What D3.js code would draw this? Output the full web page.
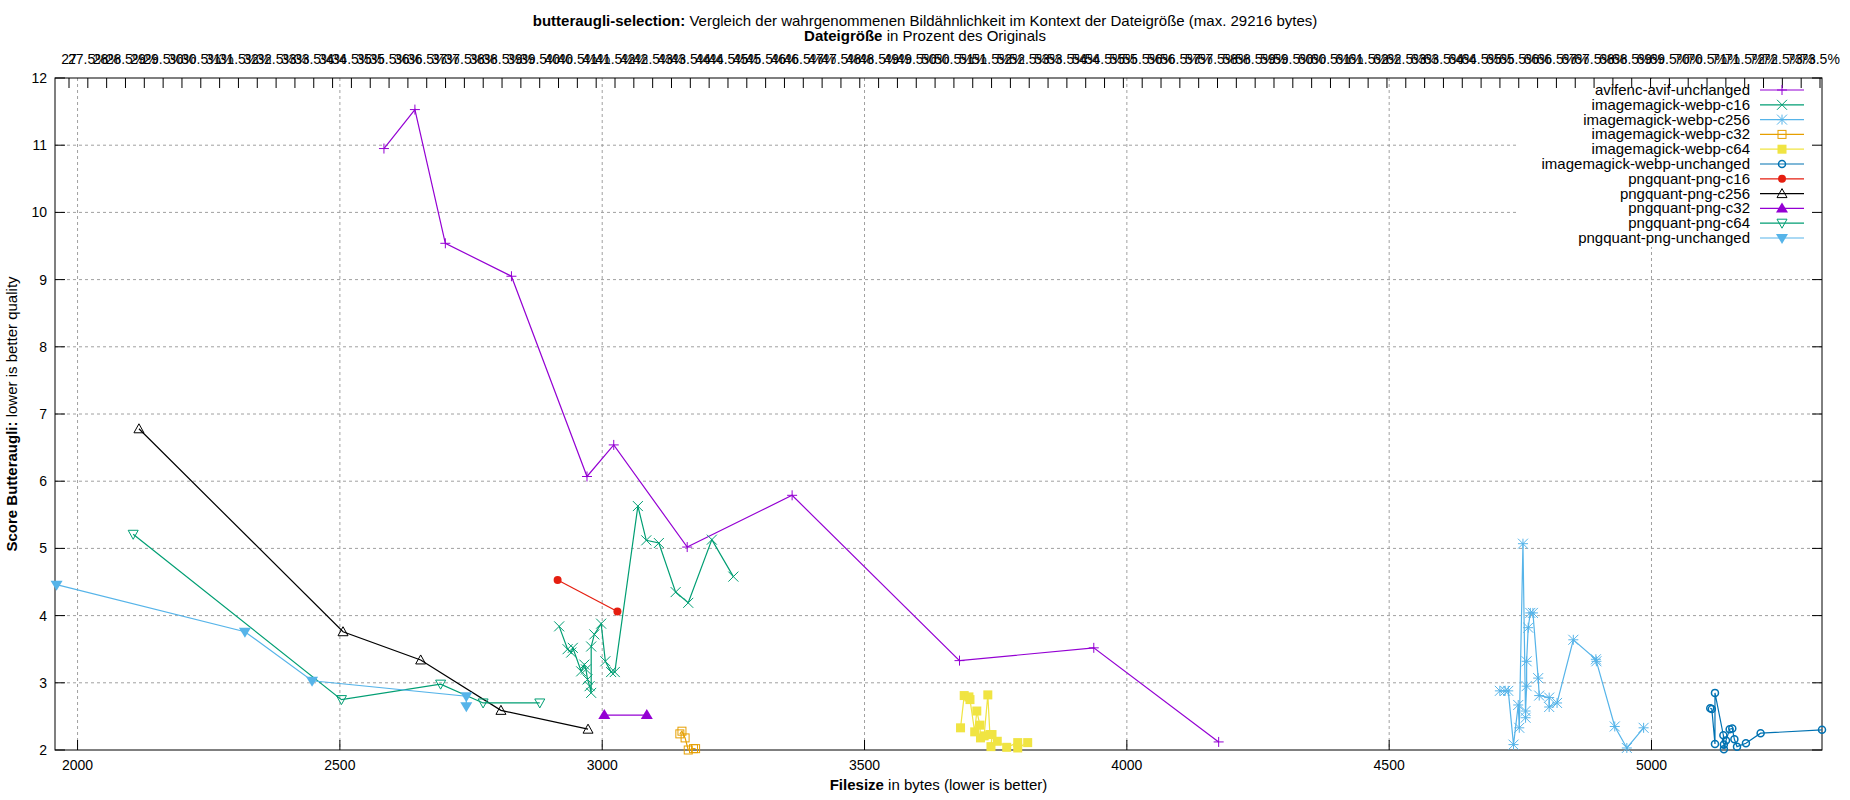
<!DOCTYPE html>
<html><head><meta charset="utf-8">
<script src="https://cdn.jsdelivr.net/npm/d3@7"></script>
<style>body{margin:0;background:#fff}svg{font-family:"Liberation Sans",Arial,sans-serif}</style>
</head><body><svg id="c" width="1850" height="800"></svg>
<script>
const seriesNames = ["avifenc-avif-unchanged","imagemagick-webp-c16","imagemagick-webp-c256","imagemagick-webp-c32","imagemagick-webp-c64","imagemagick-webp-unchanged","pngquant-png-c16","pngquant-png-c256","pngquant-png-c32","pngquant-png-c64","pngquant-png-unchanged"];
const seriesColors = ["#9400d3","#009e73","#56b4e9","#e69f00","#f0e442","#0072b2","#e51e10","#000000","#9400d3","#009e73","#56b4e9"];
const seriesMarkers = ["plus","cross","star","sqOpen","sqFill","circOpen","circFill","triOpen","triFill","dtriOpen","dtriFill"];
const avif = [[2584,10.95],[2643,11.53],[2701,9.54],[2827,9.05],[2971,6.07],[3022,6.54],[3162,5.02],[3362,5.79],[3681,3.33],[3937,3.52],[4175,2.12]];
const webpC16 = [[2918,3.84],[2934,3.50],[2941,3.45],[2944,3.52],[2960,3.17],[2966,3.27],[2969,3.20],[2972,3.05],[2976,2.95],[2979,2.85],[2979,3.54],[2985,3.72],[2998,3.88],[3006,3.32],[3017,3.16],[3024,3.16],[3068,5.63],[3084,5.12],[3108,5.08],[3140,4.35],[3164,4.19],[3209,5.13],[3250,4.58]];
const webpC256 = [[4711,2.88],[4721,2.88],[4727,2.88],[4737,2.08],[4746,2.67],[4748,2.33],[4755,5.07],[4760,2.48],[4760,2.58],[4762,2.95],[4762,3.32],[4765,3.82],[4769,4.04],[4774,4.04],[4784,3.07],[4786,2.81],[4805,2.78],[4805,2.64],[4820,2.70],[4851,3.64],[4894,3.35],[4895,3.32],[4930,2.35],[4953,2.03],[4985,2.33]];
const webpC32 = [[3148,2.24],[3152,2.28],[3158,2.18],[3164,2.0],[3174,2.02],[3178,2.02]];
const webpC64 = [[3683,2.33],[3690,2.81],[3699,2.79],[3701,2.75],[3710,2.27],[3714,2.58],[3720,2.37],[3721,2.18],[3728,2.21],[3735,2.82],[3739,2.23],[3743,2.23],[3741,2.05],[3753,2.13],[3771,2.04],[3792,2.11],[3792,2.03],[3811,2.11]];
const webpUnch = [[5112,2.62],[5115,2.61],[5121,2.09],[5121,2.85],[5137,2.22],[5138,2.08],[5138,2.01],[5142,2.14],[5149,2.31],[5154,2.32],[5158,2.16],[5163,2.05],[5180,2.10],[5208,2.25],[5325,2.30]];
const pngC16 = [[2915,4.53],[3029,4.06]];
const pngC256 = [[2117,6.78],[2506,3.76],[2654,3.34],[2807,2.59],[2973,2.31]];
const pngC32 = [[3004,2.52],[3085,2.52]];
const pngC64 = [[2106,5.21],[2503,2.75],[2692,2.98],[2773,2.70],[2881,2.70]];
const pngUnch = [[1960,4.46],[2319,3.76],[2447,3.03],[2741,2.80],[2741,2.65]];
const seriesData = [avif,webpC16,webpC256,webpC32,webpC64,webpUnch,pngC16,pngC256,pngC32,pngC64,pngUnch];
const xTicks = [2000,2500,3000,3500,4000,4500,5000];
const yTicks = [2,3,4,5,6,7,8,9,10,11,12];
const topLabels = d3.range(27,73.51,0.5).map(v=>v+"%");
topLabels[0]="27";

const W=1850,L=55,R=1822,T=78,B=750;
const svg=d3.select("#c");
const x=d3.scaleLinear().domain([1957,5325]).range([L,R]);
const y=d3.scaleLinear().domain([2,12]).range([B,T]);
const g=svg.append("g");
// grid
g.selectAll(".gx").data(xTicks).join("line").attr("x1",d=>x(d)).attr("x2",d=>x(d)).attr("y1",T).attr("y2",B).attr("stroke","#a0a0a0").attr("stroke-dasharray","3,3");
g.selectAll(".gy").data(yTicks.slice(1,-1)).join("line").attr("x1",L).attr("x2",R).attr("y1",d=>y(d)).attr("y2",d=>y(d)).attr("stroke","#a0a0a0").attr("stroke-dasharray","3,3");
// legend background
g.append("rect").attr("x",1517).attr("y",T+1).attr("width",R-1517-1).attr("height",168).attr("fill","#fff");
// axes
const ax=g.append("g").attr("font-size",14);
ax.append("rect").attr("x",L).attr("y",T).attr("width",R-L).attr("height",B-T).attr("fill","none").attr("stroke","#000");
xTicks.forEach(t=>{ax.append("line").attr("x1",x(t)).attr("x2",x(t)).attr("y1",B).attr("y2",B-10).attr("stroke","#000");
 ax.append("text").attr("x",x(t)).attr("y",B+20).attr("text-anchor","middle").text(t);});
yTicks.forEach(t=>{ax.append("line").attr("x1",L).attr("x2",L+10).attr("y1",y(t)).attr("y2",y(t)).attr("stroke","#000");
 ax.append("line").attr("x1",R).attr("x2",R-10).attr("y1",y(t)).attr("y2",y(t)).attr("stroke","#000");
 ax.append("text").attr("x",L-8).attr("y",y(t)+5).attr("text-anchor","end").text(t);});
const xt=d3.scalePoint().domain(topLabels).range([L+14,R-2]);
topLabels.forEach(t=>{ax.append("line").attr("x1",xt(t)).attr("x2",xt(t)).attr("y1",T).attr("y2",T+10).attr("stroke","#000");
 ax.append("text").attr("x",xt(t)).attr("y",T-14).attr("text-anchor","middle").text(t);});
// titles
const tt=svg.append("text").attr("x",W/2).attr("y",26).attr("text-anchor","middle").attr("font-size",15);
tt.append("tspan").attr("font-weight","bold").text("butteraugli-selection:");
tt.append("tspan").text(" Vergleich der wahrgenommenen Bildähnlichkeit im Kontext der Dateigröße (max. 29216 bytes)");
const t2=svg.append("text").attr("x",W/2).attr("y",41).attr("text-anchor","middle").attr("font-size",15);
t2.append("tspan").attr("font-weight","bold").text("Dateigröße");t2.append("tspan").text(" in Prozent des Originals");
const xl=svg.append("text").attr("x",(L+R)/2).attr("y",790).attr("text-anchor","middle").attr("font-size",15);
xl.append("tspan").attr("font-weight","bold").text("Filesize");xl.append("tspan").text(" in bytes (lower is better)");
const yl=svg.append("text").attr("transform",`translate(17,${(T+B)/2}) rotate(-90)`).attr("text-anchor","middle").attr("font-size",15);
yl.append("tspan").attr("font-weight","bold").text("Score Butteraugli:");yl.append("tspan").text(" lower is better quality");

function marker(sel,type,c){
 const s=5;
 if(type==="plus"){sel.append("path").attr("d",`M${-s},0H${s}M0,${-s}V${s}`).attr("stroke",c);}
 else if(type==="cross"){sel.append("path").attr("d",`M${-s},${-s}L${s},${s}M${-s},${s}L${s},${-s}`).attr("stroke",c);}
 else if(type==="star"){sel.append("path").attr("d",`M${-s},0H${s}M0,${-s}V${s}M${-s},${-s}L${s},${s}M${-s},${s}L${s},${-s}`).attr("stroke",c);}
 else if(type==="sqOpen"){sel.append("rect").attr("x",-4).attr("y",-4).attr("width",8).attr("height",8).attr("fill","none").attr("stroke",c);}
 else if(type==="sqFill"){sel.append("rect").attr("x",-4.5).attr("y",-4.5).attr("width",9).attr("height",9).attr("fill",c);}
 else if(type==="circOpen"){sel.append("circle").attr("r",3.5).attr("fill","none").attr("stroke",c).attr("stroke-width",1.5);}
 else if(type==="circFill"){sel.append("circle").attr("r",4).attr("fill",c);}
 else if(type==="triOpen"){sel.append("path").attr("d","M0,-5L5,4H-5Z").attr("fill","none").attr("stroke",c);}
 else if(type==="triFill"){sel.append("path").attr("d","M0,-6L6,4H-6Z").attr("fill",c);}
 else if(type==="dtriOpen"){sel.append("path").attr("d","M0,5L5,-4H-5Z").attr("fill","none").attr("stroke",c);}
 else if(type==="dtriFill"){sel.append("path").attr("d","M0,6L6,-4H-6Z").attr("fill",c);}
}
const line=d3.line().x(d=>x(d[0])).y(d=>y(d[1]));
const plot=svg.append("g");
seriesData.forEach((data,i)=>{
 const c=seriesColors[i];
 plot.append("path").datum(data).attr("d",line).attr("fill","none").attr("stroke",c).attr("stroke-width",1.2);
 data.forEach(d=>{const m=plot.append("g").attr("transform",`translate(${x(d[0])},${y(d[1])})`);marker(m,seriesMarkers[i],c);});
});
// legend
const lg=svg.append("g").attr("font-size",15);
seriesNames.forEach((n,i)=>{
 const yy=90+i*14.8;
 lg.append("text").attr("x",1750).attr("y",yy+5).attr("text-anchor","end").text(n);
 lg.append("line").attr("x1",1760).attr("x2",1804).attr("y1",yy).attr("y2",yy).attr("stroke",seriesColors[i]).attr("stroke-width",1.2);
 const m=lg.append("g").attr("transform",`translate(1782,${yy})`);marker(m,seriesMarkers[i],seriesColors[i]);
});
</script></body></html>
